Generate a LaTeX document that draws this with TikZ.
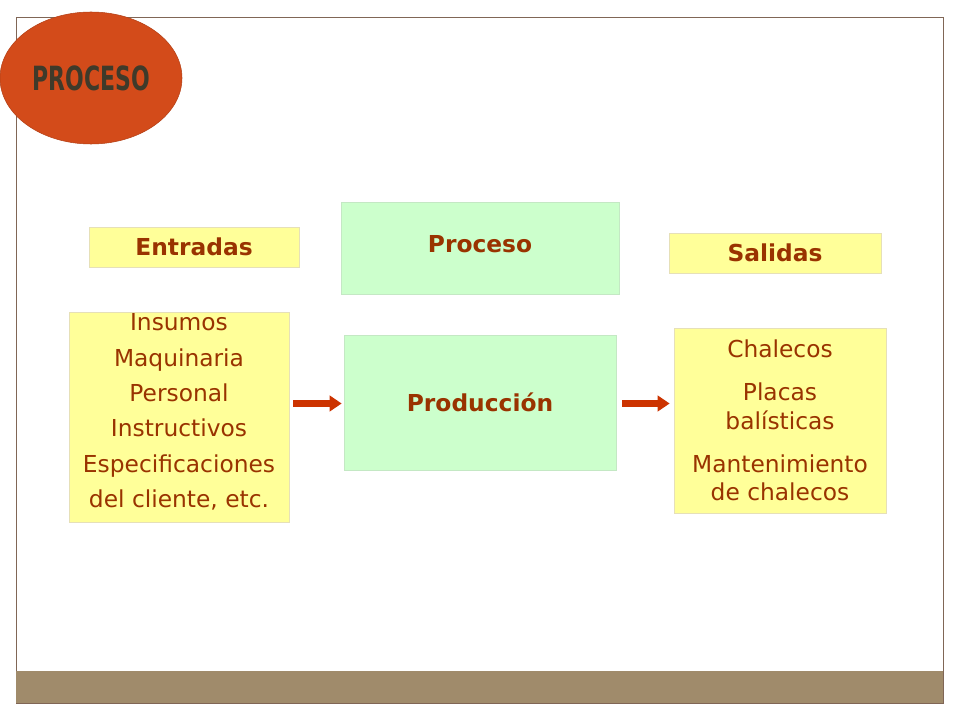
\documentclass[tikz,border=0pt]{standalone}
\usepackage{fontspec}
\setmainfont{DejaVu Sans}
\usetikzlibrary{arrows.meta, shapes.geometric, positioning}
\definecolor{txtbrown}{HTML}{993300}
\definecolor{boxyellow}{HTML}{FFFF99}
\definecolor{yellowline}{HTML}{E6E0B8}
\definecolor{boxgreen}{HTML}{CCFFCC}
\definecolor{greenline}{HTML}{C4E8C4}
\definecolor{ovalred}{HTML}{D34B1A}
\definecolor{titledark}{HTML}{3F3A2A}
\definecolor{framebrown}{HTML}{806656}
\definecolor{barbrown}{HTML}{A08B6B}
\definecolor{arrowred}{HTML}{CC3300}
\tikzset{
  yellowbox/.style = {fill=boxyellow, draw=yellowline, line width=0.5pt, inner sep=0pt,
    text=txtbrown, align=center},
  greenbox/.style = {fill=boxgreen, draw=greenline, line width=0.5pt, inner sep=0pt,
    text=txtbrown, align=center, font=\bfseries\fontsize{17.5}{20}\selectfont},
  headbox/.style = {yellowbox, font=\bfseries\fontsize{17.5}{20}\selectfont},
  titleoval/.style = {ellipse, fill=ovalred, draw=ovalred!85!black, line width=0.4pt,
    inner sep=0pt, text=titledark},
  flow/.style = {arrowred, line width=5.25pt, -{Triangle[length=9pt, width=11.5pt]}}
}
\begin{document}
\begin{tikzpicture}[x=0.75pt, y=-0.75pt]
  \useasboundingbox (0,0) rectangle (960,720);

  %% Slide

  % Frame and bottom bar
  \draw[framebrown, line width=0.75pt] (16,18) rectangle (943,703);
  \fill[barbrown] (16,671) rectangle (943,703);

  % Title
  \node[titleoval, minimum width=136.5pt, minimum height=99pt] (title) at (91,78) {};
  \node[text=titledark, font=\bfseries\fontsize{25}{30}\selectfont, xscale=0.66] at (title) {PROCESO};

  % Headers
  \node[headbox, minimum width=157.5pt, minimum height=30pt] (entradas) at (194,247) {Entradas};
  \node[greenbox, minimum width=208.5pt, minimum height=69pt, text depth=6pt] (proceso) at (480,248) {Proceso};
  \node[headbox, minimum width=159pt, minimum height=30pt] (salidas) at (775,253) {Salidas};

  % Inputs
  \node[yellowbox, minimum width=165pt, minimum height=157.5pt, text depth=9.5pt,
        font=\fontsize{17.5}{26.5}\selectfont] (insumos) at (179,417)
    {Insumos\\Maquinaria\\Personal\\Instructivos\\Especificaciones\\del cliente, etc.};

  % Production
  \node[greenbox, minimum width=204pt, minimum height=101.25pt] (produccion) at (480,402.5) {Producción};

  % Outputs
  \node[yellowbox, minimum width=159pt, minimum height=138.75pt,
        font=\fontsize{17.5}{21.4}\selectfont] (productos) at (780,420.5)
    {Chalecos\\[11pt]Placas\\balísticas\\[11pt]Mantenimiento\\de chalecos};

  % Arrows
  \draw[flow, shorten <=3pt, shorten >=1.5pt] ([yshift=-0.75pt]insumos.east |- produccion) -- ([yshift=-0.75pt]produccion.west);
  \draw[flow, shorten <=4.5pt, shorten >=3pt] ([yshift=-0.75pt]produccion.east) -- ([yshift=-0.75pt]productos.west |- produccion);

\end{tikzpicture}
\end{document}
